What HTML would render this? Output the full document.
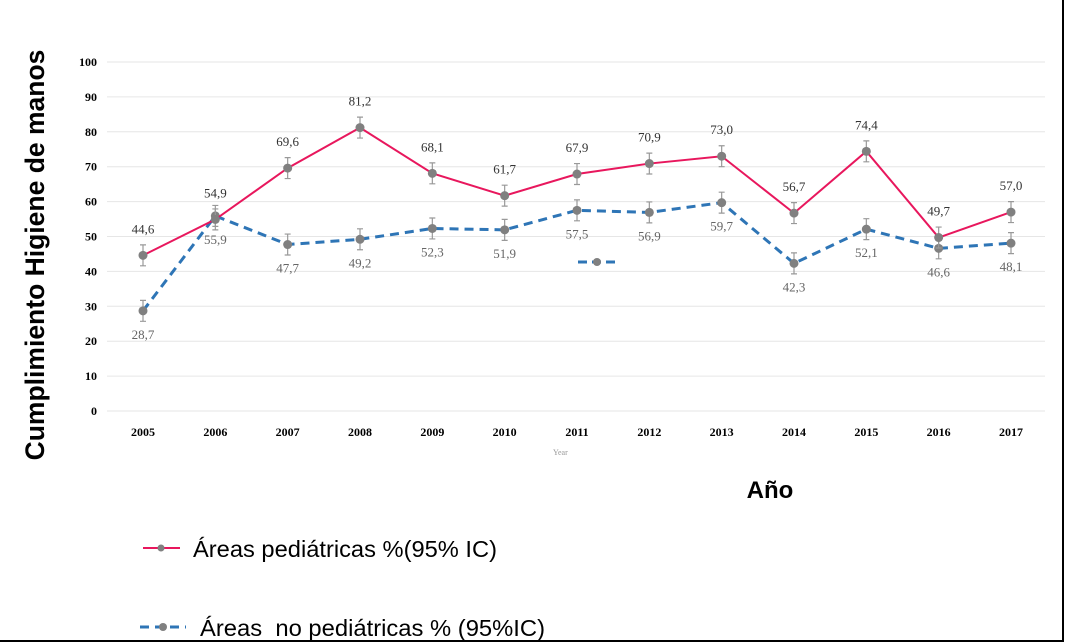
<!DOCTYPE html>
<html><head><meta charset="utf-8">
<style>
body{margin:0;background:#fff;}
#wrap{position:relative;width:1066px;height:643px;overflow:hidden;background:#fff;}
svg text{font-family:"Liberation Serif",serif;}
</style></head>
<body>
<div id="wrap">
<svg id="chart" width="1066" height="643">
  <line x1="1063" y1="0" x2="1063" y2="641" stroke="#000" stroke-width="2"/>
  <line x1="0" y1="641" x2="1064" y2="641" stroke="#000" stroke-width="2"/>
  <g id="grid"></g>
  <g id="yticks"></g>
  <g id="xticks"></g>
  <g id="series"></g>
  <text x="44" y="255" transform="rotate(-90 44 255)" text-anchor="middle" font-size="26.5" font-weight="bold" style="font-family:'Liberation Sans',sans-serif">Cumplimiento Higiene de manos</text>
  <text x="770" y="498" text-anchor="middle" font-size="24" font-weight="bold" style="font-family:'Liberation Sans',sans-serif">Año</text>
  <text x="553" y="455" font-size="8" fill="#999">Year</text>
  <g>
    <line x1="578" y1="262" x2="617" y2="262" stroke="#2e75b6" stroke-width="3" stroke-dasharray="9,5"/>
    <circle cx="597" cy="262" r="4" fill="#808080"/>
  </g>
  <g>
    <line x1="143" y1="548" x2="180" y2="548" stroke="#e8175d" stroke-width="2"/>
    <circle cx="161" cy="548" r="3.5" fill="#808080"/>
    <text x="193" y="557" font-size="23" style="font-family:'Liberation Sans',sans-serif" textLength="304" lengthAdjust="spacingAndGlyphs">Áreas pediátricas %(95% IC)</text>
  </g>
  <g>
    <line x1="140" y1="627" x2="186" y2="627" stroke="#2e75b6" stroke-width="3" stroke-dasharray="9,6"/>
    <circle cx="163" cy="627" r="4" fill="#808080"/>
    <text x="200" y="636" font-size="23" xml:space="preserve" style="font-family:'Liberation Sans',sans-serif;white-space:pre" textLength="345" lengthAdjust="spacingAndGlyphs">Áreas  no pediátricas % (95%IC)</text>
  </g>
</svg>
</div>
<script>
const years = ["2005","2006","2007","2008","2009","2010","2011","2012","2013","2014","2015","2016","2017"];
const pediatric = [44.6,54.9,69.6,81.2,68.1,61.7,67.9,70.9,73.0,56.7,74.4,49.7,57.0];
const nonPediatric = [28.7,55.9,47.7,49.2,52.3,51.9,57.5,56.9,59.7,42.3,52.1,46.6,48.1];
const yTicks = [0,10,20,30,40,50,60,70,80,90,100];
const ciHalf = 3;

const NS = "http://www.w3.org/2000/svg";
const x0 = 143, xStep = (1011-143)/12;
const yZero = 411, yTop = 62;
function xs(i){return x0 + i*xStep;}
function ys(v){return yZero - (yZero-yTop)*v/100;}
function mk(tag, attrs, parent){const e=document.createElementNS(NS,tag);for(const k in attrs)e.setAttribute(k,attrs[k]);parent.appendChild(e);return e;}
const grid=document.getElementById('grid'), yt=document.getElementById('yticks'), xt=document.getElementById('xticks'), ser=document.getElementById('series');

yTicks.forEach(t=>{
  const l=mk('line',{x1:107,x2:1045,y1:ys(t),y2:ys(t),stroke:'#e6e6e6','stroke-width':1},grid);
  
  
  const tx=mk('text',{x:97,y:ys(t)+4,'text-anchor':'end','font-size':12,'font-weight':'bold'},yt);
  tx.textContent=t;
  
  
});
years.forEach((y,i)=>{
  const tx=mk('text',{x:xs(i),y:436,'text-anchor':'middle','font-size':12,'font-weight':'bold'},xt);
  tx.textContent=y;
  
  
});

function fmt(v){return v.toFixed(1).replace('.',',');}
function drawSeries(vals,color,dash,labelOff,name){
  const g=mk('g',{},ser);
  
  
  const pts=vals.map((v,i)=>xs(i)+','+ys(v)).join(' ');
  const pl=mk('polyline',{points:pts,fill:'none',stroke:color,'stroke-width':dash?3:2,'stroke-dasharray':dash?'9,6':'none'},g);
  
  
  vals.forEach((v,i)=>{
    const x=xs(i),y=ys(v),h=(yZero-yTop)*ciHalf/100;
    const eb=mk('path',{d:`M${x},${y-h}V${y+h}M${x-3},${y-h}H${x+3}M${x-3},${y+h}H${x+3}`,stroke:'#999','stroke-width':1.2,fill:'none'},g);
    
    
    const c=mk('circle',{cx:x,cy:y,r:4.5,fill:'#808080'},g);
    
    
    const t=mk('text',{x:x,y:y+labelOff,'text-anchor':'middle','font-size':13,fill:labelOff<0?'#333':'#666'},g);
    t.textContent=fmt(v);
    
    
  });
}
drawSeries(nonPediatric,'#2e75b6',true,28,'non-pediatric');
drawSeries(pediatric,'#e8175d',false,-22,'pediatric');
</script>
</body></html>
